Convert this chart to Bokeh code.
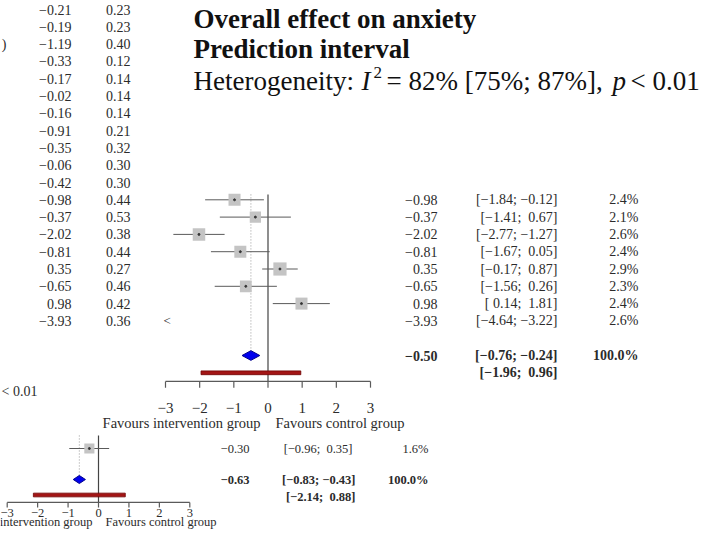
import math
from bokeh.plotting import figure
from bokeh.models import Range1d
from bokeh.core.properties import value
from bokeh.embed import file_html
from bokeh.resources import INLINE

# ---------------- data ----------------
left_est = [-0.21, -0.19, -1.19, -0.33, -0.17, -0.02, -0.16, -0.91, -0.35, -0.06,
            -0.42, -0.98, -0.37, -2.02, -0.81, 0.35, -0.65, 0.98, -3.93]
left_se = [0.23, 0.23, 0.40, 0.12, 0.14, 0.14, 0.14, 0.21, 0.32, 0.30,
           0.30, 0.44, 0.53, 0.38, 0.44, 0.27, 0.46, 0.42, 0.36]

study_est = [-0.98, -0.37, -2.02, -0.81, 0.35, -0.65, 0.98, -3.93]
study_lo = [-1.84, -1.41, -2.77, -1.67, -0.17, -1.56, 0.14, -4.64]
study_hi = [-0.12, 0.67, -1.27, 0.05, 0.87, 0.26, 1.81, -3.22]
study_w = [2.4, 2.1, 2.6, 2.4, 2.9, 2.3, 2.4, 2.6]

overall_est, overall_lo, overall_hi, overall_w = -0.50, -0.76, -0.24, 100.0
pred_lo, pred_hi = -1.96, 0.96

sub_est = [-0.30]
sub_lo = [-0.96]
sub_hi = [0.35]
sub_w = [1.6]
sub_overall_est, sub_overall_lo, sub_overall_hi, sub_overall_w = -0.63, -0.83, -0.43, 100.0
sub_pred_lo, sub_pred_hi = -2.14, 0.88

ticks = [-3, -2, -1, 0, 1, 2, 3]
title_lines = ["Overall effect on anxiety", "Prediction interval"]
het_I2, het_lo, het_hi, het_p = 82, 75, 87, "< 0.01"
favours = ["Favours intervention group", "Favours control group"]

# ---------------- helpers ----------------
SERIF = value("Liberation Serif")
MINUS = "\u2212"
NBSP = "\u00a0"


def f2(v):
    return f"{v:.2f}".replace("-", MINUS)


def padded(v):
    s = f2(v)
    return s if v < 0 else NBSP + s


def ci(lo, hi):
    return "[" + padded(lo) + "; " + padded(hi) + "]"


def pct(w):
    return f"{w:.1f}%"


def lin_range(v1, px1, v2, px2, px_start, px_end):
    sc = (px2 - px1) / (v2 - v1)
    return Range1d(start=v1 + (px_start - px1) / sc, end=v1 + (px_end - px1) / sc)


W, H = 702, 531

p = figure(width=W, height=H, x_range=Range1d(0, W), y_range=Range1d(H, 0),
           output_backend="svg", toolbar_location=None, min_border=0,
           x_axis_type=None, y_axis_type=None, outline_line_color=None,
           background_fill_color="white", border_fill_color="white")
p.grid.visible = False

p.extra_x_ranges = {
    "ux": lin_range(-3, 165, 3, 370, 0, W),
    "lx": lin_range(-3, 6.7, 3, 189.3, 0, W),
}
p.extra_y_ranges = {
    "ur": lin_range(0, 9, 1, 26.3, H, 0),
    "lr": lin_range(0, 448, 1, 463.5, H, 0),
}

TXT = "#2b2b2b"
LINE = "#5a5a5a"


def txt(xs, ys, texts, size, align="right", style="normal", color=TXT,
        xr="default", yr="default", baseline="middle"):
    p.text(x=list(xs), y=list(ys), text=list(texts), text_font=SERIF,
           text_font_size=value(f"{size}px"), text_font_style=style,
           text_align=align, text_baseline=baseline, text_color=color,
           x_range_name=xr, y_range_name=yr)


# ---------------- lower (background) plot ----------------
n_sub = len(sub_est)
sub_rows = list(range(n_sub))
sub_diam_row = n_sub + 1
sub_pred_row = n_sub + 2
sub_axis_row = 3.48
p.segment(x0=[0], y0=[-0.84], x1=[0], y1=[sub_axis_row], line_color="#444444",
          line_width=1.2, x_range_name="lx", y_range_name="lr")
p.segment(x0=[sub_overall_est], y0=[-0.84], x1=[sub_overall_est], y1=[sub_diam_row],
          line_color="#9a9a9a", line_dash="1 2", line_width=1,
          x_range_name="lx", y_range_name="lr")
p.segment(x0=sub_lo, y0=sub_rows, x1=sub_hi, y1=sub_rows, line_color=LINE,
          line_width=1, x_range_name="lx", y_range_name="lr")
p.scatter(x=sub_est, y=sub_rows, marker="square",
          size=[8.0 * math.sqrt(w) for w in sub_w], fill_color="#c4c4c4",
          line_color=None, x_range_name="lx", y_range_name="lr")
p.scatter(x=sub_est, y=sub_rows, size=2, color="#333333",
          x_range_name="lx", y_range_name="lr")
p.patch(x=[sub_overall_lo, sub_overall_est, sub_overall_hi, sub_overall_est],
        y=[sub_diam_row, sub_diam_row - 0.26, sub_diam_row, sub_diam_row + 0.26],
        fill_color="#0000ee", line_color="#00008b", line_width=1,
        x_range_name="lx", y_range_name="lr")
p.quad(left=[sub_pred_lo], right=[sub_pred_hi], bottom=[sub_pred_row + 0.12],
       top=[sub_pred_row - 0.12], fill_color="#a31515", line_color="#6e0000",
       line_width=0.8, x_range_name="lx", y_range_name="lr")
p.segment(x0=[ticks[0]], y0=[sub_axis_row], x1=[ticks[-1]], y1=[sub_axis_row],
          line_color=LINE, line_width=1.2, x_range_name="lx", y_range_name="lr")
p.segment(x0=ticks, y0=[sub_axis_row] * len(ticks), x1=ticks,
          y1=[3.81] * len(ticks), line_color=LINE, line_width=1.2,
          x_range_name="lx", y_range_name="lr")
txt(ticks, [4.13] * len(ticks), [str(t).replace("-", MINUS) for t in ticks], 12.5,
    align="center", xr="lx", yr="lr")
txt([-0.2], [4.75], [favours[0]], 12.5, align="right", xr="lx", yr="lr")
txt([0.23], [4.75], [favours[1]], 12.5, align="left", xr="lx", yr="lr")
txt([249] * n_sub, sub_rows, [f2(v) for v in sub_est], 12.5, yr="lr")
txt([352] * n_sub, sub_rows, [ci(a, b) for a, b in zip(sub_lo, sub_hi)], 12.5, yr="lr")
txt([428] * n_sub, sub_rows, [pct(w) for w in sub_w], 12.5, yr="lr")
txt([249], [sub_diam_row], [f2(sub_overall_est)], 12.5, style="bold", yr="lr")
txt([355], [sub_diam_row], [ci(sub_overall_lo, sub_overall_hi)], 12.5, style="bold", yr="lr")
txt([428], [sub_diam_row], [pct(sub_overall_w)], 12.5, style="bold", yr="lr")
txt([355], [sub_pred_row + 0.15], [ci(sub_pred_lo, sub_pred_hi)], 12.5, style="bold", yr="lr")
txt([37], [391], [het_p], 14, align="right")

# ---------------- upper plot ----------------
n_left = len(left_est)
left_rows = list(range(n_left))
txt([71] * n_left, left_rows, [f2(v) for v in left_est], 14, yr="ur")
txt([130] * n_left, left_rows, [f"{v:.2f}" for v in left_se], 14, yr="ur")
txt([6], [2], [")"], 14, yr="ur")

n_st = len(study_est)
st_rows = [n_left - n_st + i for i in range(n_st)]
diam_row = n_left + 1
pred_row = n_left + 2
axis_row = 21.5
top_row = 10.69

p.segment(x0=[0], y0=[top_row], x1=[0], y1=[axis_row], line_color="#444444",
          line_width=1.2, x_range_name="ux", y_range_name="ur")
p.segment(x0=[overall_est], y0=[top_row], x1=[overall_est], y1=[diam_row],
          line_color="#9a9a9a", line_dash="1 2", line_width=1,
          x_range_name="ux", y_range_name="ur")

lo_c = [max(a, ticks[0]) for a in study_lo]
hi_c = [min(b, ticks[-1]) for b in study_hi]
vis = [i for i in range(n_st) if hi_c[i] > lo_c[i]]
p.segment(x0=[lo_c[i] for i in vis], y0=[st_rows[i] for i in vis],
          x1=[hi_c[i] for i in vis], y1=[st_rows[i] for i in vis],
          line_color=LINE, line_width=1, x_range_name="ux", y_range_name="ur")
inside = [i for i in range(n_st) if ticks[0] <= study_est[i] <= ticks[-1]]
p.scatter(x=[study_est[i] for i in inside], y=[st_rows[i] for i in inside],
          marker="square", size=[7.75 * math.sqrt(study_w[i]) for i in inside],
          fill_color="#c4c4c4", line_color=None, x_range_name="ux", y_range_name="ur")
p.scatter(x=[study_est[i] for i in inside], y=[st_rows[i] for i in inside],
          size=2, color="#333333", x_range_name="ux", y_range_name="ur")
outside = [i for i in range(n_st) if study_est[i] < ticks[0]]
txt([ticks[0] + 0.05] * len(outside), [st_rows[i] for i in outside],
    ["<"] * len(outside), 13, align="center", xr="ux", yr="ur")

p.patch(x=[overall_lo, overall_est, overall_hi, overall_est],
        y=[diam_row, diam_row - 0.28, diam_row, diam_row + 0.28],
        fill_color="#0000ee", line_color="#00008b", line_width=1,
        x_range_name="ux", y_range_name="ur")
p.quad(left=[pred_lo], right=[pred_hi], bottom=[pred_row + 0.11], top=[pred_row - 0.11],
       fill_color="#a31515", line_color="#6e0000", line_width=0.8,
       x_range_name="ux", y_range_name="ur")

p.segment(x0=[ticks[0]], y0=[axis_row], x1=[ticks[-1]], y1=[axis_row],
          line_color=LINE, line_width=1.2, x_range_name="ux", y_range_name="ur")
p.segment(x0=ticks, y0=[axis_row] * len(ticks), x1=ticks,
          y1=[axis_row + 0.36] * len(ticks), line_color=LINE, line_width=1.2,
          x_range_name="ux", y_range_name="ur")
txt(ticks, [23.06] * len(ticks), [str(t).replace("-", MINUS) for t in ticks], 15,
    align="center", xr="ux", yr="ur")
txt([-0.22], [23.9], [favours[0]], 14.5, align="right", xr="ux", yr="ur")
txt([0.22], [23.9], [favours[1]], 14.5, align="left", xr="ux", yr="ur")

txt([437] * n_st, st_rows, [f2(v) for v in study_est], 14, yr="ur")
txt([557] * n_st, st_rows, [ci(a, b) for a, b in zip(study_lo, study_hi)], 14, yr="ur")
txt([638] * n_st, st_rows, [pct(w) for w in study_w], 14, yr="ur")
txt([437], [diam_row], [f2(overall_est)], 14, style="bold", yr="ur")
txt([557], [diam_row], [ci(overall_lo, overall_hi)], 14, style="bold", yr="ur")
txt([638], [diam_row], [pct(overall_w)], 14, style="bold", yr="ur")
txt([557], [pred_row], [ci(pred_lo, pred_hi)], 14, style="bold", yr="ur")

# titles
TITLE = "#111111"
txt([193], [18], [title_lines[0]], 27, align="left", style="bold", color=TITLE)
txt([193], [48], [title_lines[1]], 27, align="left", style="bold", color=TITLE)
txt([193], [80], ["Heterogeneity:"], 27, align="left", color=TITLE)
txt([361], [80], ["I"], 27, align="left", style="italic", color=TITLE)
txt([373], [72], ["2"], 17, align="left", color=TITLE)
txt([386], [80], [f"= {het_I2}% [{het_lo}%; {het_hi}%],"], 27, align="left", color=TITLE)
txt([612], [80], ["p"], 27, align="left", style="italic", color=TITLE)
txt([630], [80], [het_p], 27, align="left", color=TITLE)

open("out.html", "w").write(file_html(p, INLINE))
